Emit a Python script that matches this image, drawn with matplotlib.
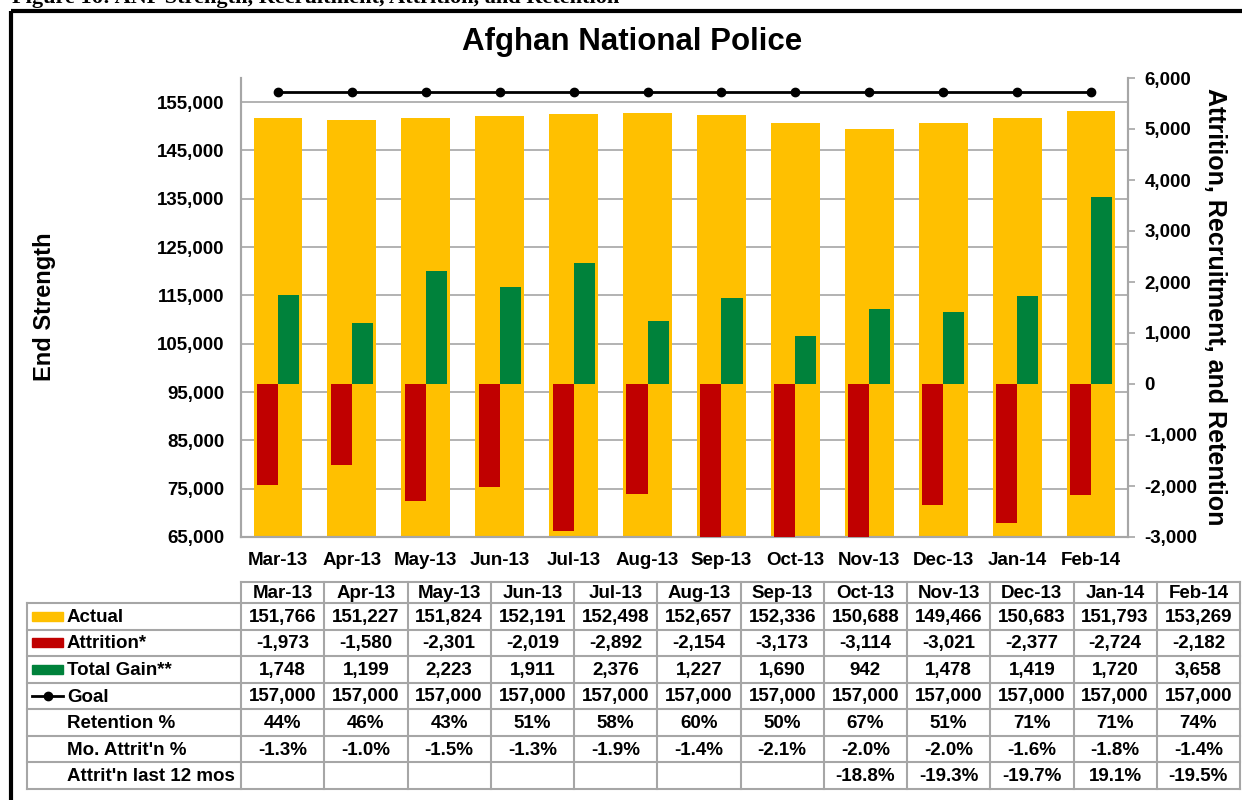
import matplotlib.pyplot as plt
from matplotlib.patches import Rectangle
from matplotlib.lines import Line2D

plt.rcParams['font.family'] = ['Liberation Sans', 'DejaVu Sans']
plt.rcParams['font.weight'] = 'bold'

months = ['Mar-13', 'Apr-13', 'May-13', 'Jun-13', 'Jul-13', 'Aug-13',
          'Sep-13', 'Oct-13', 'Nov-13', 'Dec-13', 'Jan-14', 'Feb-14']
actual = [151766, 151227, 151824, 152191, 152498, 152657,
          152336, 150688, 149466, 150683, 151793, 153269]
attrition = [-1973, -1580, -2301, -2019, -2892, -2154,
             -3173, -3114, -3021, -2377, -2724, -2182]
gain = [1748, 1199, 2223, 1911, 2376, 1227, 1690, 942, 1478, 1419, 1720, 3658]
goal = [157000] * 12
retention = ['44%', '46%', '43%', '51%', '58%', '60%',
             '50%', '67%', '51%', '71%', '71%', '74%']
mo_attrit = ['-1.3%', '-1.0%', '-1.5%', '-1.3%', '-1.9%', '-1.4%',
             '-2.1%', '-2.0%', '-2.0%', '-1.6%', '-1.8%', '-1.4%']
last12 = ['', '', '', '', '', '', '', '-18.8%', '-19.3%', '-19.7%', '19.1%', '-19.5%']

ORANGE = '#FFC000'
RED = '#C00000'
GREEN = '#00823B'
GRID = '#A6A6A6'

W, H = 1242, 800
fig = plt.figure(figsize=(W / 100, H / 100), dpi=100)

def box(l, t, r, b):
    return [l / W, 1 - b / H, (r - l) / W, (b - t) / H]

# main chart
ax = fig.add_axes(box(241, 78, 1128, 537))
x = list(range(len(months)))
ax.bar(x, actual, width=0.66, color=ORANGE, zorder=2)
ax.plot(x, goal, color='black', lw=2, marker='o', markersize=6, zorder=3)
ax.set_ylim(65000, 160000)
ax.set_yticks(range(65000, 160000, 10000))
ax.set_yticklabels([f'{v:,}' for v in range(65000, 160000, 10000)])
ax.set_xlim(-0.5, 11.5)
ax.set_xticks(x)
ax.set_xticklabels(months)
ax.grid(axis='y', color=GRID, lw=1.2, zorder=0)
ax.tick_params(axis='y', length=0, pad=12, labelsize=13.5)
ax.tick_params(axis='x', length=0, pad=11, labelsize=13.5)
for s in ['left', 'bottom', 'right']:
    ax.spines[s].set_color(GRID)
    ax.spines[s].set_linewidth(1.5)
ax.spines['top'].set_visible(False)

ax2 = ax.twinx()
ax2.bar([i - 0.1425 for i in x], attrition, width=0.285, color=RED, zorder=3)
ax2.bar([i + 0.1425 for i in x], gain, width=0.285, color=GREEN, zorder=3)
ax2.set_ylim(-3000, 6000)
ax2.set_yticks(range(-3000, 6001, 1000))
ax2.set_yticklabels([f'{v:,}' for v in range(-3000, 6001, 1000)])
ax2.tick_params(axis='y', length=5, width=1.2, color=GRID, pad=7, labelsize=13.5)
for s in ['left', 'bottom', 'right']:
    ax2.spines[s].set_color(GRID)
    ax2.spines[s].set_linewidth(1.5)
ax2.spines['top'].set_visible(False)

fig.text(45 / W, 1 - 307 / H, 'End Strength', fontsize=17, fontweight='bold',
         rotation=90, ha='center', va='center')
fig.text(1215 / W, 1 - 307 / H, 'Attrition, Recruitment, and Retention', fontsize=18,
         fontweight='bold', rotation=-90, ha='center', va='center')

fig.text(632 / W, 1 - 42 / H, 'Afghan National Police', fontsize=22.5,
         fontweight='bold', ha='center', va='center')

# overlay in pixel coordinates for border and caption
ov = fig.add_axes([0, 0, 1, 1], zorder=-1)
ov.set_xlim(0, W)
ov.set_ylim(H, 0)
ov.axis('off')
ov.add_patch(Rectangle((11, 11), W, H, fill=False, ec='black', lw=3))
fig.text(12 / W, 1 - 3 / H, 'Figure 16: ANP Strength, Recruitment, Attrition, and Retention',
         fontsize=16, family='Liberation Serif', fontweight='bold',
         ha='left', va='baseline')

tab = fig.add_axes([0, 0, 1, 1])
tab.set_xlim(0, W)
tab.set_ylim(H, 0)
tab.axis('off')

t_left, lab_right, t_right = 27, 241, 1240
head_top, head_bot, t_bot = 582, 603, 789
col_w = (t_right - lab_right) / len(months)
rows = [
    ('Actual', [f'{v:,}' for v in actual]),
    ('Attrition*', [f'{v:,}' for v in attrition]),
    ('Total Gain**', [f'{v:,}' for v in gain]),
    ('Goal', [f'{v:,}' for v in goal]),
    ('Retention %', retention),
    ("Mo. Attrit'n %", mo_attrit),
    ("Attrit'n last 12 mos", last12),
]
row_h = (t_bot - head_bot) / len(rows)
lkw = dict(color=GRID, lw=1.5)

# header row (data columns only)
tab.plot([lab_right, t_right], [head_top, head_top], **lkw)
for j, m in enumerate(months):
    cx = lab_right + (j + 0.5) * col_w
    tab.text(cx, (head_top + head_bot) / 2 + 1, m, ha='center', va='center', fontsize=13.5)
for j in range(len(months) + 1):
    xx = lab_right + j * col_w
    tab.plot([xx, xx], [head_top, t_bot], **lkw)
tab.plot([t_left, t_left], [head_bot, t_bot], **lkw)
for i in range(len(rows) + 1):
    yy = head_bot + i * row_h
    tab.plot([t_left, t_right], [yy, yy], **lkw)

for i, (name, vals) in enumerate(rows):
    cy = head_bot + (i + 0.5) * row_h + 1
    tab.text(67, cy, name, ha='left', va='center', fontsize=13.5)
    for j, v in enumerate(vals):
        cx = lab_right + (j + 0.5) * col_w
        tab.text(cx, cy, v, ha='center', va='center', fontsize=13.5)

# legend keys inside the label column
swatches = [ORANGE, RED, GREEN]
for i, c in enumerate(swatches):
    cy = head_bot + (i + 0.5) * row_h
    tab.add_patch(Rectangle((32, cy - 4.5), 31, 9, color=c))
gy = head_bot + 3.5 * row_h
tab.add_line(Line2D([32, 63], [gy, gy], color='black', lw=2))
tab.plot([47.5], [gy], marker='o', color='black', markersize=6)

fig.savefig('out.png', dpi=100)
